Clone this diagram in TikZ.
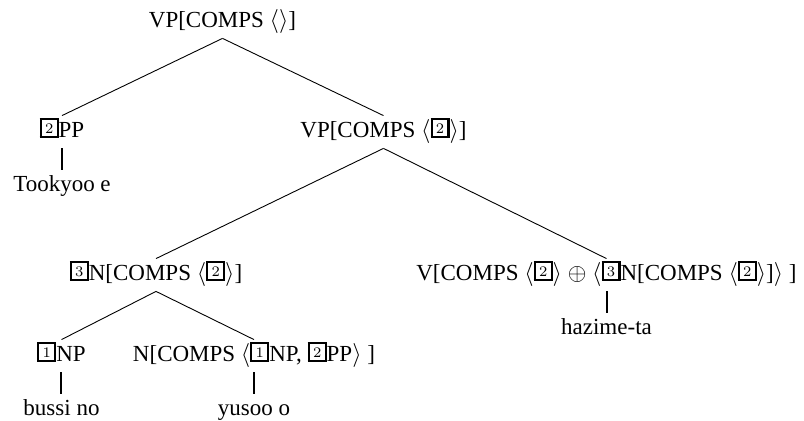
\documentclass[tikz,border=0pt]{standalone}
\usepackage{fontspec}
\setmainfont{Liberation Serif}
\usepackage{tikz}
\usetikzlibrary{positioning}
\tikzstyle{tree edge}=[line width=0.45pt]
\tikzstyle{lex edge}=[line width=1pt]
\tikzstyle{cat}=[inner sep=0pt, text height=11pt, text depth=5pt]
\newcommand{\tagbox}[1]{%
  \raisebox{1pt}{\fboxsep=0pt\fboxrule=1.05pt\fbox{\makebox[7.4pt]{\rule{0pt}{7.9pt}\raisebox{1.3pt}{\fontfamily{lmr}\fontsize{7.3pt}{8pt}\selectfont #1}}}}%
}
\newcommand{\treenode}[3][]{
  \node [anchor=base, cat, #1] (#2) {#3}
}
\newcommand{\topnode}[1][]{
  \treenode[#1]{root}{VP[COMPS $\langle\rangle$]}
}

\begin{document}
\begin{tikzpicture}[on grid, font=\fontsize{11.5pt}{14pt}\selectfont]
        \useasboundingbox (-111.25pt,-196.5pt) rectangle (290.75pt,14pt);
        \topnode;
        \treenode[below left=55pt and 80.25pt of root]{pp}{\tagbox{2}PP};
        \treenode[below right=55pt and 80.5pt of root]{vp}{VP[COMPS $\langle$\tagbox{2}$\rangle$]};
        \treenode[below=27pt of pp]{tok}{Tookyoo e};
         \treenode[below left=71.5pt and 113.75pt of vp]{n3}{\tagbox{3}N[COMPS $\langle$\tagbox{2}$\rangle$]};
         \treenode[below right=71.5pt and 111.5pt of vp]{v}{V[COMPS $\langle$\tagbox{2}$\rangle$ $\oplus$ $\langle$\tagbox{3}N[COMPS $\langle$\tagbox{2}$\rangle$]$\rangle$ ]};
         \treenode[below=27pt of v]{hz}{hazime-ta};
          \treenode[below left=40.5pt and 47.25pt of n3]{np}{\tagbox{1}NP};
    \treenode[below right=40.5pt and 49pt of n3]{n4}{N[COMPS $\langle$\tagbox{1}NP, \tagbox{2}PP$\rangle$ ]};
    \treenode[below=27pt of np]{bu}{bussi no};
    \treenode[below=27pt of n4]{yu}{yusoo o};
      \draw[tree edge] (root.south) -- (pp.north);
            \draw[tree edge] (root.south) -- (vp.north);
                  \draw[tree edge] (vp.south) -- (n3.north);
                        \draw[tree edge] (vp.south) -- (v.north);
                              \draw[tree edge] (n3.south) -- (np.north);
                              \draw[tree edge] (n3.south) -- (n4.north);
      \draw[lex edge] (pp.south) -- (tok.north);
      \draw[lex edge] (v.south) -- (hz.north);
      \draw[lex edge] (np.south) -- (bu.north);
      \draw[lex edge] (n4.south) -- (yu.north);
      \end{tikzpicture}
\end{document}
